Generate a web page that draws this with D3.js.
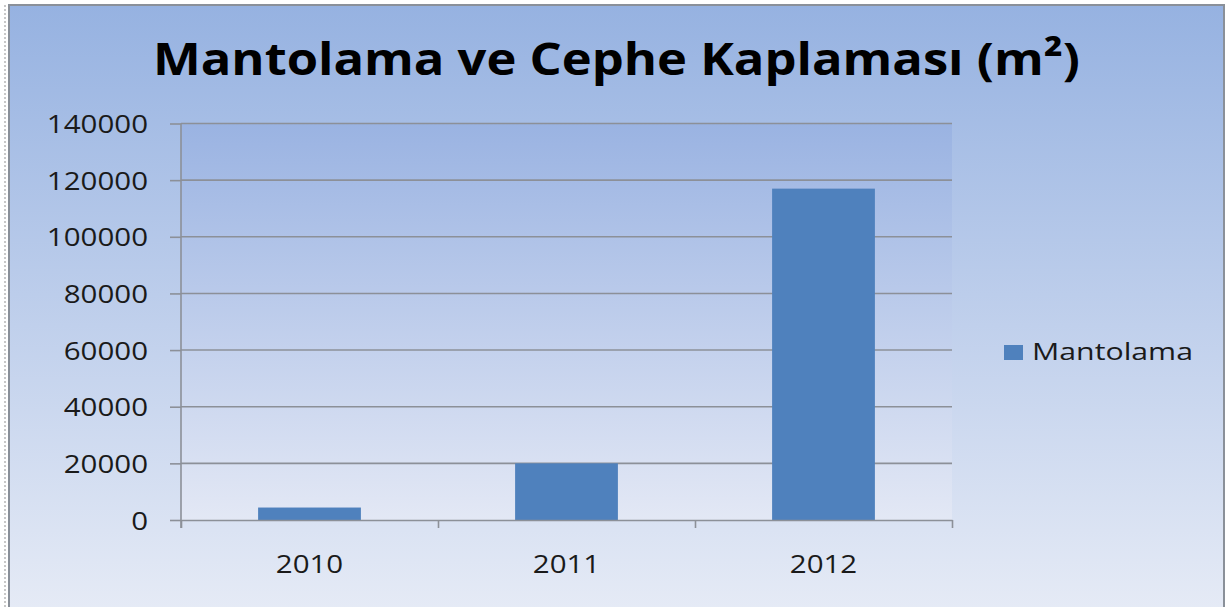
<!DOCTYPE html>
<html>
<head>
<meta charset="utf-8">
<script src="https://cdn.jsdelivr.net/npm/d3@7"></script>
<style>
  body { margin: 0; background: #ffffff; }
  svg { display: block; }
  text { font-family: "Open Sans", "DejaVu Sans", sans-serif; }
</style>
</head>
<body>
<div id="canvas"></div>
<script>
// chart data
var title = "Mantolama ve Cephe Kaplaması (m²)";
var seriesName = "Mantolama";
var categories = ["2010", "2011", "2012"];
var values = [4400, 20000, 117000];
var yTicks = [0, 20000, 40000, 60000, 80000, 100000, 120000, 140000];

var width = 1228;
var height = 607;
var stretch = 1.18; // picture is stretched sideways

var plot = { left: 181, right: 952, top: 123.5, bottom: 520 };

var svgContainer = d3.select("#canvas").append("svg")
	.attr("width", width)
	.attr("height", height);

var defs = svgContainer.append("defs");

var outerGrad = defs.append("linearGradient")
	.attr("id", "outerGrad").attr("x1", 0).attr("y1", 0).attr("x2", 0).attr("y2", 1);
outerGrad.append("stop").attr("offset", "0%").attr("stop-color", "#96b2e1");
outerGrad.append("stop").attr("offset", "100%").attr("stop-color", "#e6ebf6");

var plotGrad = defs.append("linearGradient")
	.attr("id", "plotGrad").attr("x1", 0).attr("y1", 0).attr("x2", 0).attr("y2", 1);
plotGrad.append("stop").attr("offset", "0%").attr("stop-color", "#9ab3e2");
plotGrad.append("stop").attr("offset", "100%").attr("stop-color", "#e3e8f5");

// outer frame
svgContainer.append("rect")
	.attr("x", 9).attr("y", 5)
	.attr("width", 1215).attr("height", 610)
	.attr("fill", "url(#outerGrad)")
	.attr("stroke", "#8a9099")
	.attr("stroke-width", 2);

// dotted edge at far left
svgContainer.append("line")
	.attr("x1", 5).attr("x2", 5).attr("y1", 5).attr("y2", height)
	.attr("stroke", "#c8c8c8").attr("stroke-width", 2)
	.attr("stroke-dasharray", "2,2");

// plot area
svgContainer.append("rect")
	.attr("x", plot.left).attr("y", plot.top)
	.attr("width", plot.right - plot.left).attr("height", plot.bottom - plot.top)
	.attr("fill", "url(#plotGrad)");

var y = d3.scaleLinear().domain([0, 140000]).range([plot.bottom, plot.top]);
var x = d3.scaleBand().domain(categories).range([plot.left, plot.right])
	.paddingInner(0.6).paddingOuter(0.3);
var xEdge = d3.scaleLinear().domain([0, categories.length]).range([plot.left, plot.right]);

// gridlines
svgContainer.append("g").selectAll("line")
	.data(yTicks.slice(1))
	.enter().append("line")
	.attr("x1", plot.left).attr("x2", plot.right)
	.attr("y1", function(d){ return y(d); })
	.attr("y2", function(d){ return y(d); })
	.attr("stroke", "#8c9098").attr("stroke-width", 1.6);

// bars
svgContainer.append("g").selectAll("rect")
	.data(values)
	.enter().append("rect")
	.attr("x", function(d, i){ return x(categories[i]); })
	.attr("y", function(d){ return y(d); })
	.attr("width", x.bandwidth())
	.attr("height", function(d){ return y(0) - y(d); })
	.attr("fill", "#4f81bd");

// y axis
var yAxis = svgContainer.append("g")
	.attr("transform", "translate(" + plot.left + ",0)")
	.call(d3.axisLeft(y).tickValues(yTicks).tickFormat(d3.format("d")).tickSize(11).tickSizeOuter(0));
yAxis.select(".domain").remove();
yAxis.append("line")
	.attr("x1", 0).attr("x2", 0).attr("y1", plot.top).attr("y2", plot.bottom + 8)
	.attr("stroke", "#8c9098").attr("stroke-width", 1.6);
yAxis.selectAll(".tick line").attr("stroke", "#8c9098").attr("stroke-width", 1.6);
yAxis.selectAll(".tick text")
	.attr("font-size", 25)
	.attr("fill", "#1a1a1a")
	.attr("dy", "0.36em")
	.attr("x", -33 / stretch)
	.attr("transform", "scale(" + stretch + ",1)");

// x axis
var xAxis = svgContainer.append("g")
	.attr("transform", "translate(0," + plot.bottom + ")")
	.call(d3.axisBottom(xEdge).tickValues(d3.range(categories.length + 1)).tickSize(8).tickSizeOuter(0).tickFormat(""));
xAxis.select(".domain").attr("stroke", "#8c9098").attr("stroke-width", 1.6);
xAxis.selectAll(".tick line").attr("stroke", "#8c9098").attr("stroke-width", 1.6);

svgContainer.append("g").selectAll("text")
	.data(categories)
	.enter().append("text")
	.attr("transform", function(d){
		return "translate(" + (x(d) + x.bandwidth() / 2) + ",573) scale(" + stretch + ",1)";
	})
	.attr("text-anchor", "middle")
	.attr("font-size", 25)
	.attr("fill", "#1a1a1a")
	.text(function(d){ return d; });

// title
svgContainer.append("text")
	.attr("x", 153).attr("y", 75)
	.attr("font-size", 45)
	.attr("font-weight", "bold")
	.attr("fill", "#000000")
	.attr("textLength", 927)
	.attr("lengthAdjust", "spacingAndGlyphs")
	.text(title);

// legend
var legend = svgContainer.append("g");
legend.append("rect")
	.attr("x", 1004).attr("y", 345)
	.attr("width", 19).attr("height", 15)
	.attr("fill", "#4f81bd");
legend.append("text")
	.attr("x", 1032).attr("y", 360)
	.attr("font-size", 24)
	.attr("fill", "#1a1a1a")
	.attr("textLength", 161)
	.attr("lengthAdjust", "spacingAndGlyphs")
	.text(seriesName);
</script>
</body>
</html>
